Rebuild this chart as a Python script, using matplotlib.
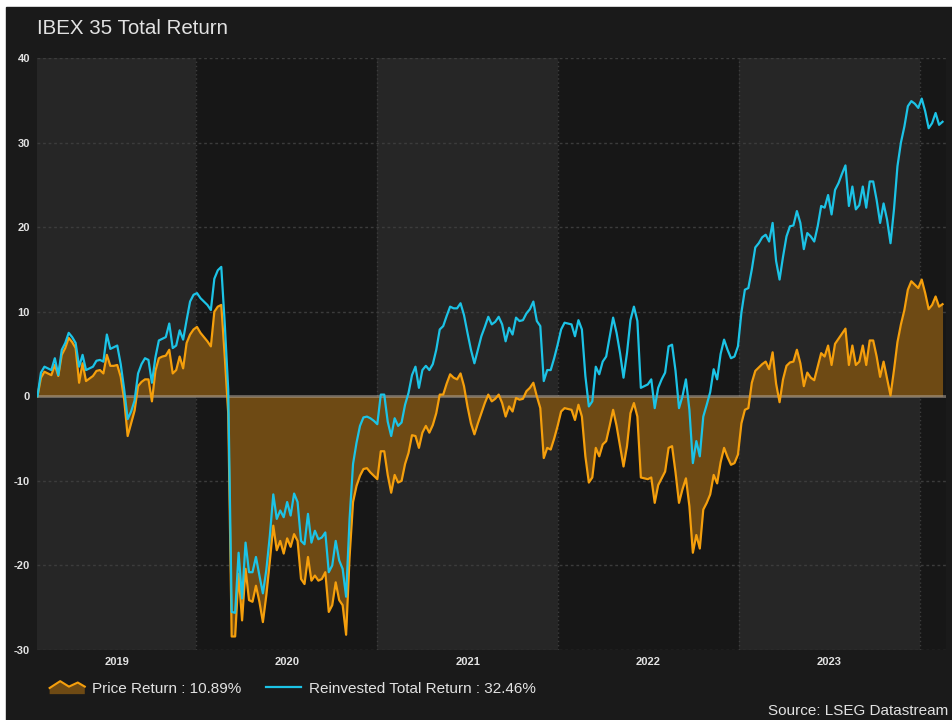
import numpy as np
import pandas as pd
import matplotlib
matplotlib.use("Agg")
import matplotlib.pyplot as plt
from matplotlib.patches import Rectangle, Polygon
from matplotlib.lines import Line2D
from matplotlib.legend_handler import HandlerBase

plt.rcParams["font.family"] = ["Liberation Sans", "DejaVu Sans"]

# Weekly cumulative returns (%), IBEX 35, Feb 2019 - Feb 2024
start_date = "2019-02-15"
total_return = [
    0.0, 2.8, 3.5, 3.3, 3.1, 4.5, 2.5, 5.5, 6.3, 7.5,
    7.0, 6.3, 3.5, 4.9, 3.1, 3.3, 3.5, 4.2, 4.3, 4.1,
    7.3, 5.6, 5.8, 6.0, 3.8, 0.8, -2.7, -1.8, -0.5, 2.7,
    3.8, 4.5, 4.3, 1.6, 4.6, 6.6, 6.8, 7.0, 8.6, 5.7,
    6.0, 7.8, 6.7, 9.0, 11.2, 12.0, 12.2, 11.6, 11.2, 10.8,
    10.2, 13.9, 14.9, 15.3, 8.6, 0.8, -25.5, -25.6, -18.5, -23.9,
    -17.3, -20.8, -20.8, -19.0, -21.2, -23.3, -20.5, -16.5, -11.6, -14.5,
    -13.5, -14.3, -12.5, -14.1, -11.5, -12.5, -17.1, -17.5, -13.9, -17.3,
    -15.9, -16.9, -16.7, -16.1, -20.8, -20.0, -17.1, -19.4, -20.4, -23.7,
    -14.5, -8.0, -5.5, -3.5, -2.5, -2.4, -2.6, -2.9, -3.3, 0.2,
    0.2, -3.0, -4.7, -2.6, -3.5, -3.1, -1.0, 0.4, 2.5, 3.5,
    1.0, 3.1, 3.6, 3.1, 3.8, 5.5, 7.9, 8.3, 9.5, 10.6,
    10.4, 10.4, 11.0, 9.6, 7.5, 5.5, 3.9, 5.5, 7.1, 8.2,
    9.4, 8.5, 8.8, 9.4, 8.5, 6.5, 8.1, 7.3, 9.3, 8.9,
    9.0, 9.8, 10.3, 11.2, 8.9, 8.3, 1.8, 3.1, 3.1, 4.5,
    6.1, 7.9, 8.7, 8.6, 8.5, 7.1, 9.0, 7.9, 2.4, -1.2,
    -0.6, 3.5, 2.6, 4.1, 4.7, 7.0, 9.3, 7.5, 5.1, 2.2,
    5.1, 9.0, 10.6, 8.9, 1.0, 1.2, 1.4, 2.0, -1.4, 1.0,
    2.0, 2.8, 5.9, 6.1, 3.0, -1.4, 0.0, 2.0, -1.6, -7.9,
    -5.3, -7.1, -2.4, -1.0, 0.5, 3.2, 2.0, 5.0, 6.7, 5.5,
    4.5, 4.7, 5.9, 9.9, 12.6, 12.8, 15.0, 17.6, 18.1, 18.8,
    19.1, 18.3, 20.5, 16.0, 13.8, 16.5, 18.9, 20.1, 20.2, 21.9,
    20.5, 17.4, 19.3, 18.9, 18.3, 20.1, 22.5, 22.3, 23.8, 21.5,
    24.4, 25.2, 26.3, 27.3, 22.5, 24.8, 22.1, 22.6, 24.8, 22.3,
    25.4, 25.4, 23.2, 20.5, 22.8, 20.9, 18.1, 22.1, 27.2, 30.0,
    31.9, 34.3, 34.9, 34.6, 34.1, 35.2, 33.7, 31.7, 32.3, 33.5,
    32.1, 32.46,
]
price_return = [
    0.0, 2.2, 2.9, 2.7, 2.5, 3.7, 2.4, 4.9, 5.7, 6.9,
    6.4, 5.7, 1.6, 3.9, 1.8, 2.1, 2.4, 3.0, 3.1, 2.7,
    4.9, 3.6, 3.6, 3.7, 2.3, -0.4, -4.7, -3.2, -1.7, 1.2,
    1.7, 2.0, 2.0, -0.6, 3.0, 4.5, 4.7, 4.8, 5.5, 2.7,
    3.1, 4.7, 3.3, 6.3, 7.3, 7.9, 8.2, 7.5, 7.0, 6.5,
    5.9, 10.0, 10.6, 10.8, 4.7, -2.0, -28.4, -28.4, -21.0, -26.5,
    -20.4, -24.1, -24.3, -22.4, -24.3, -26.7, -23.5, -19.5, -15.3, -18.2,
    -17.1, -18.6, -16.8, -17.8, -16.3, -17.1, -21.6, -22.2, -19.0, -21.8,
    -21.2, -21.8, -21.6, -20.8, -25.5, -24.7, -22.0, -24.1, -24.7, -28.2,
    -19.0, -12.5, -10.6, -9.4, -8.6, -8.5, -9.0, -9.4, -9.8, -6.5,
    -6.5, -9.3, -11.4, -9.3, -10.2, -10.0, -8.0, -6.7, -4.6, -4.7,
    -6.1, -4.3, -3.5, -4.3, -3.4, -2.0, 0.2, 0.2, 1.5, 2.6,
    2.2, 2.0, 2.7, 1.2, -1.2, -3.2, -4.5, -3.2, -2.0, -0.8,
    0.2, -0.6, -0.3, 0.2, -0.8, -2.4, -1.2, -1.8, -0.2, -0.4,
    -0.3, 0.6, 1.0, 1.6, 0.0, -1.4, -7.3, -6.1, -6.3, -5.0,
    -3.5, -1.8, -1.4, -1.5, -1.6, -2.8, -1.0, -2.4, -7.1, -10.2,
    -9.6, -6.1, -7.1, -5.7, -5.3, -3.5, -1.6, -3.5, -5.9, -8.3,
    -5.9, -2.0, -0.8, -2.4, -9.6, -9.7, -9.8, -9.6, -12.6, -10.5,
    -9.7, -8.9, -6.1, -5.9, -9.0, -12.6, -11.0, -9.7, -13.0, -18.5,
    -16.4, -18.0, -13.4, -12.6, -11.6, -9.3, -10.3, -7.8, -6.1, -7.2,
    -8.1, -7.9, -6.9, -3.2, -1.6, -1.4, 1.6, 3.0, 3.4, 3.8,
    4.1, 3.2, 5.2, 1.5, -0.7, 2.0, 3.6, 4.0, 4.1, 5.5,
    3.9, 1.2, 2.8, 2.2, 1.9, 3.5, 5.1, 4.7, 6.0, 3.7,
    6.2, 6.8, 7.4, 8.0, 3.7, 6.0, 3.7, 4.1, 6.0, 3.7,
    6.6, 6.6, 4.7, 2.3, 4.1, 2.1, 0.1, 3.1, 6.4, 8.5,
    10.2, 12.6, 13.6, 13.2, 12.8, 13.8, 12.2, 10.3, 10.8, 11.8,
    10.6, 10.89,
]
years = [2019, 2020, 2021, 2022, 2023, 2024]
y_ticks = [-30, -20, -10, 0, 10, 20, 30, 40]

dates = pd.date_range(start_date, periods=len(total_return), freq="7D")

BG = "#1a1a1a"
BAND_LIGHT = "#262626"
BAND_DARK = "#171717"
ORANGE = "#f59f0c"
ORANGE_FILL = "#6e4a14"
BLUE = "#1cc3e6"
TXT = "#e2e2e2"


class AreaHandler(HandlerBase):
    # small mountain-shaped swatch for the filled series
    def create_artists(self, legend, orig_handle, xdescent, ydescent,
                       width, height, fontsize, trans):
        fx = np.array([0.0, 0.3, 0.55, 0.8, 1.0])
        fy = np.array([0.45, 0.95, 0.55, 0.85, 0.55])
        xs = fx * width - xdescent
        ys = fy * height - ydescent
        poly = Polygon(np.column_stack([np.r_[xs, xs[-1], xs[0]],
                                        np.r_[ys, -ydescent, -ydescent]]),
                       closed=True, facecolor=ORANGE_FILL, edgecolor="none",
                       transform=trans)
        edge = Line2D(xs, ys, color=ORANGE, lw=1.5, transform=trans)
        return [poly, edge]


fig = plt.figure(figsize=(9.52, 7.2), dpi=100, facecolor="white")
fig.patches.append(Rectangle((6 / 952, 0), 1, 1 - 7 / 720,
                             transform=fig.transFigure, color=BG, zorder=-10))

ax = fig.add_axes([37 / 952, 1 - 650 / 720, (946 - 37) / 952, (650 - 58) / 720])
ax.set_facecolor(BAND_DARK)

x_lo = pd.Timestamp("2019-02-14")
x_hi = pd.Timestamp("2024-02-23")

# alternating year bands with dotted separators
mids = []
for k, yr in enumerate(years):
    y0 = max(pd.Timestamp(f"{yr}-01-01"), x_lo)
    y1 = min(pd.Timestamp(f"{yr + 1}-01-01"), x_hi)
    ax.axvspan(y0, y1, color=BAND_LIGHT if k % 2 == 0 else BAND_DARK, lw=0, zorder=0)
    if yr > years[0]:
        ax.axvline(pd.Timestamp(f"{yr}-01-01"), color="#3c3c3c", lw=1,
                   ls=(0, (1, 2)), zorder=1)
    mids.append(y0 + (y1 - y0) / 2)

for yv in y_ticks:
    if yv != 0:
        ax.axhline(yv, color="#3c3c3c", lw=1, ls=(0, (2, 2)), zorder=1)

ax.fill_between(dates, price_return, 0, color=ORANGE_FILL, lw=0, zorder=2)
ax.axhline(0, color="#b5aa9c", lw=2, alpha=0.55, zorder=3)
ax.plot(dates, price_return, color=ORANGE, lw=1.6, zorder=4)
ax.plot(dates, total_return, color=BLUE, lw=1.6, zorder=5)

ax.set_xlim(x_lo, x_hi)
ax.set_ylim(-30, 40)
ax.set_yticks(y_ticks)
ax.set_yticklabels([str(v) for v in y_ticks])
ax.set_xticks(mids[:-1])
ax.set_xticklabels([str(y) for y in years[:-1]])
ax.tick_params(length=0, colors=TXT, labelsize=8)
ax.tick_params(axis="y", pad=5)
ax.tick_params(axis="x", pad=5)
for lbl in ax.get_xticklabels() + ax.get_yticklabels():
    lbl.set_fontweight("bold")
for s in ax.spines.values():
    s.set_visible(False)

fig.text(37 / 952, 1 - 29 / 720, "IBEX 35 Total Return", fontsize=14.8,
         color=TXT, va="center", ha="left")

handles = [Rectangle((0, 0), 1, 1), Line2D([], [], color=BLUE, lw=1.6)]
labels = [f"Price Return : {price_return[-1]:.2f}%",
          f"Reinvested Total Return : {total_return[-1]:.2f}%"]
fig.legend(handles, labels, loc="center left",
           bbox_to_anchor=(42 / 952, 1 - 688 / 720), ncol=2, frameon=False,
           fontsize=11, labelcolor=TXT, handlelength=2.3, handleheight=1.0,
           handletextpad=0.5, columnspacing=1.6, borderpad=0,
           handler_map={Rectangle: AreaHandler()})

fig.text(948 / 952, 1 - 711 / 720, "Source: LSEG Datastream", fontsize=11,
         color=TXT, ha="right", va="center")

fig.savefig("out.png", dpi=100, facecolor=fig.get_facecolor())
